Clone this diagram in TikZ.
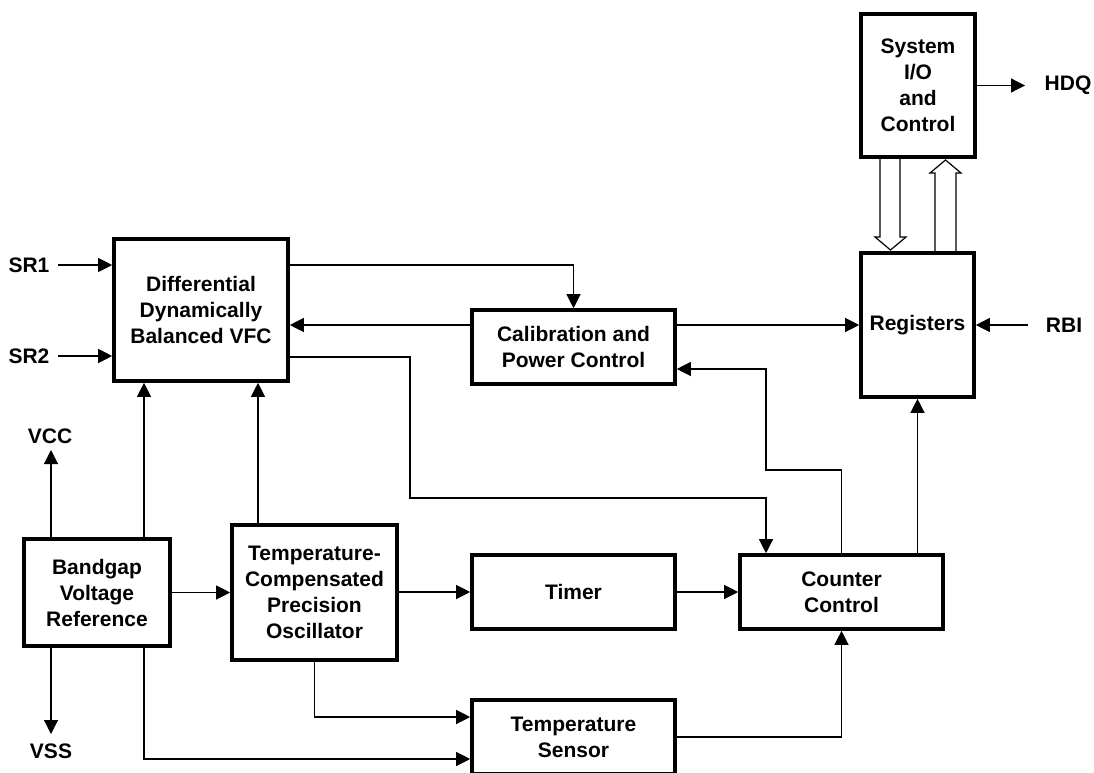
\documentclass[tikz,border=0pt]{standalone}
\usepackage{fontspec}
\setmainfont{Liberation Sans}
\usetikzlibrary{arrows.meta,calc}
\begin{document}
\begin{tikzpicture}[x=1pt,y=-1pt,
  box/.style={draw,line width=3.6pt,align=center,inner sep=0pt,font=\bfseries\fontsize{21}{26}\selectfont},
  lbl/.style={font=\bfseries\fontsize{21}{26}\selectfont,inner sep=0pt},
  arr/.style={line width=1.2pt,-{Triangle[length=14pt,width=14pt]}},
  hollow/.style={line width=1.2pt,line join=miter}]
\useasboundingbox (0,0) rectangle (1094,773);
% boxes
\node[box,minimum width=114pt,minimum height=143pt] (sys) at (918,85.5) {System\\I/O\\and\\Control};
\node[box,minimum width=113pt,minimum height=144pt] (reg) at (917.5,325) {Registers};
\node[box,minimum width=174pt,minimum height=142pt] (vfc) at (201,310) {Differential\\Dynamically\\Balanced VFC};
\node[box,minimum width=203pt,minimum height=74pt] (cal) at (573.5,347) {Calibration and\\Power Control};
\node[box,minimum width=146pt,minimum height=107pt] (bg) at (97,592.5) {Bandgap\\Voltage\\Reference};
\node[box,minimum width=165pt,minimum height=135pt] (tcpo) at (314.5,592.5) {Temperature-\\Compensated\\Precision\\Oscillator};
\node[box,minimum width=203pt,minimum height=74pt] (timer) at (573.5,592) {Timer};
\node[box,minimum width=203pt,minimum height=74pt] (cnt) at (841.5,592) {Counter\\Control};
\node[box,minimum width=203pt,minimum height=74pt] (sens) at (573.5,737) {Temperature\\Sensor};
% pin labels
\node[lbl] (sr1) at (29,265) {SR1};
\node[lbl] (sr2) at (29,356) {SR2};
\node[lbl] (vcc) at (50,436) {VCC};
\node[lbl] (vss) at (51,751) {VSS};
\node[lbl] (rbi) at (1064,325) {RBI};
\node[lbl] (hdq) at (1068,85) {HDQ};
\coordinate (sr1e) at (58,265);
\coordinate (sr2e) at (58,356);
\coordinate (vcce) at (51,450);
\coordinate (vsse) at (51,734);
\coordinate (rbie) at (1028,325);
\coordinate (hdqe) at (1025,85.5);
% connectors
\draw[arr] (sr1e) -- (sr1e -| vfc.west);
\draw[arr] (sr2e) -- (sr2e -| vfc.west);
\draw[arr] ([yshift=45pt]vfc.east) -| (cal.north);
\draw[arr] (cal.west |- reg.west) -- (vfc.east |- reg.west);
\draw[arr] (cal.east |- reg.west) -- (reg.west);
\draw[arr] (rbie) -- (reg.east);
\draw[arr] (sys.east) -- (hdqe);
\draw[arr] ([yshift=-47pt]vfc.east) -| (410,498) -| ([xshift=-75.5pt]cnt.north);
\draw[arr] (cnt.north) |- (766,470) |- ([yshift=-22pt]cal.east);
\draw[arr] (reg.south |- cnt.north) -- (reg.south);
\draw[arr] ([xshift=-57pt]vfc.south |- bg.north) -- ([xshift=-57pt]vfc.south);
\draw[arr] ([xshift=57pt]vfc.south |- tcpo.north) -- ([xshift=57pt]vfc.south);
\draw[arr] (bg.north -| vcce) -- (vcce);
\draw[arr] (bg.south -| vsse) -- (vsse);
\draw[arr] (bg.east) -- (tcpo.west |- bg.east);
\draw[arr] (tcpo.east |- timer.west) -- (timer.west);
\draw[arr] (timer.east) -- (cnt.west);
\draw[arr] (tcpo.south) |- ([yshift=20pt]sens.west);
\draw[arr] ([xshift=47pt]bg.south) |- ([yshift=-22pt]sens.west);
\draw[arr] (sens.east) -| (cnt.south);
% hollow bus arrows
\draw[hollow] (880,159) -- (880,237) -- (875,237) -- (890.5,250) -- (906,237) -- (900,237) -- (900,159);
\draw[hollow] (935,251) -- (935,173) -- (930,173) -- (945.5,160) -- (961,173) -- (956,173) -- (956,251);
\end{tikzpicture}
\end{document}
